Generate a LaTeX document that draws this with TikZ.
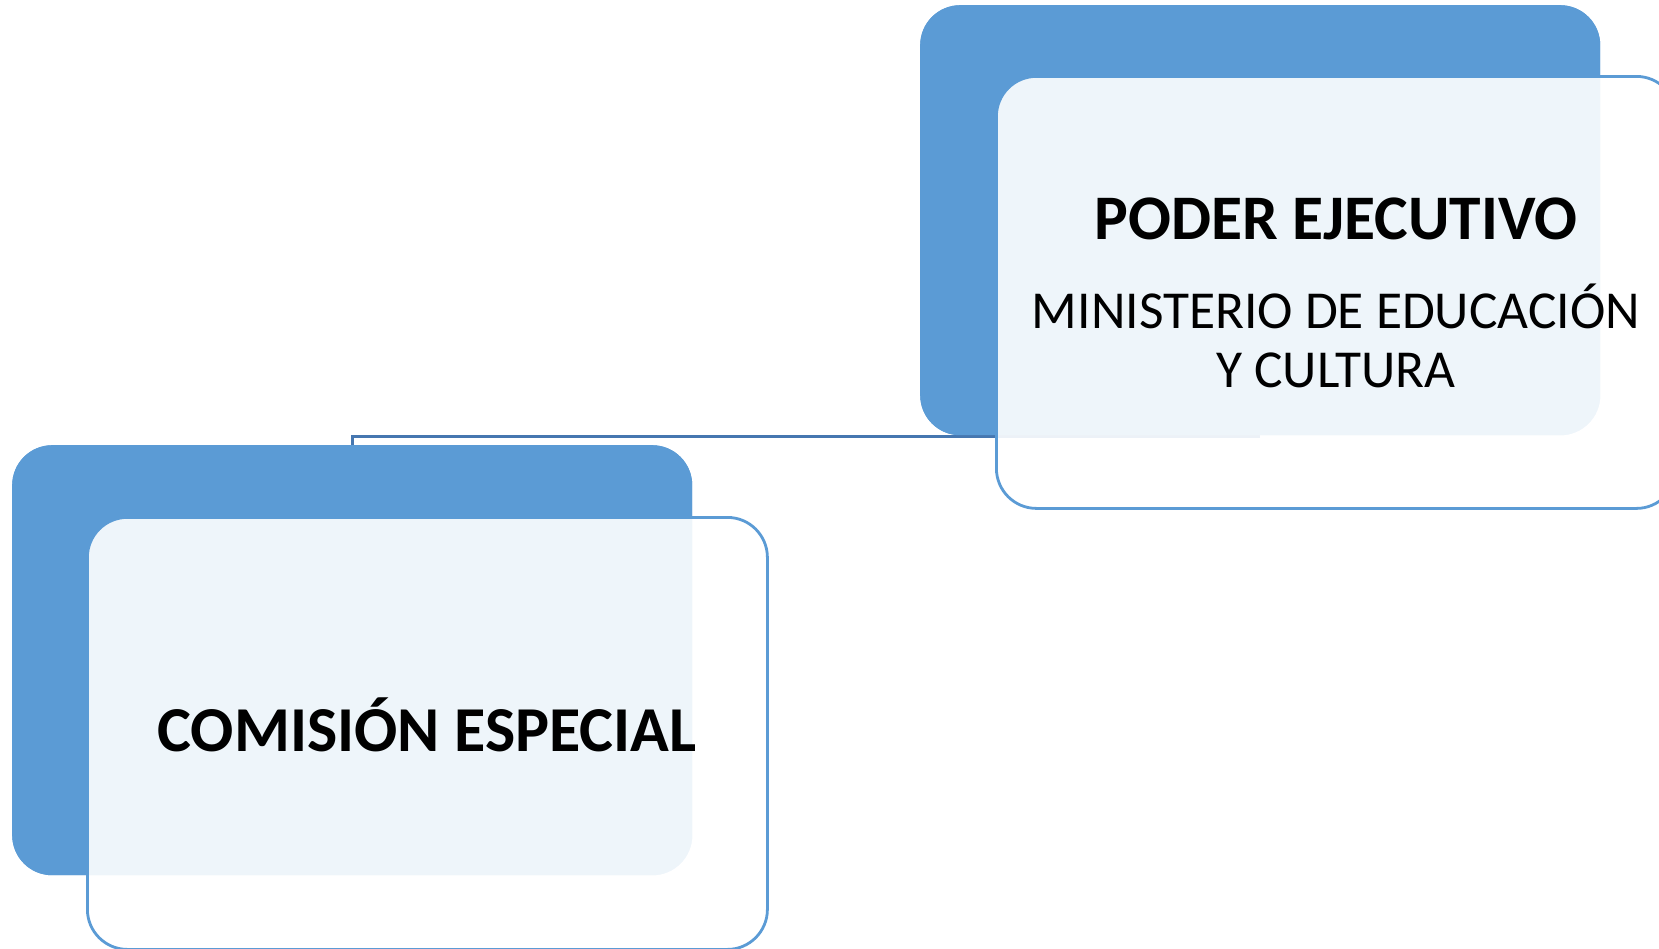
\documentclass[tikz,border=0pt]{standalone}
\usepackage{fontspec}
\setmainfont{Carlito}
\definecolor{accent}{HTML}{5B9BD5}
\definecolor{connc}{HTML}{4677B0}
\tikzset{
  bluebox/.style={fill=accent, draw=none, rounded corners=40pt, anchor=north west,
    minimum width=680pt, minimum height=430pt, inner sep=0pt},
  overbox/.style={fill=white, fill opacity=0.9, text opacity=1, draw=accent, line width=2.8pt,
    rounded corners=40pt, anchor=north west, minimum width=680pt, minimum height=432pt,
    inner sep=0pt, align=center},
  conn/.style={draw=connc, line width=3pt},
}
\begin{document}
\begin{tikzpicture}[x=1pt,y=-1pt]
\useasboundingbox (0,0) rectangle (1659,948);
\clip (0,0) rectangle (1659,948);
\node[bluebox] (b1) at (920,5) {};
\node[bluebox] (b2) at (12,445) {};
\draw[conn] (b2.north) |- ([yshift=-1.5pt]b1.south);
\node[bluebox] at (920,5) {};
\node[bluebox] at (12,445) {};
\node[overbox] (o1) at (995,75) {};
\node[overbox] (o2) at (86,516) {};
\node[align=center, inner sep=0pt, font=\fontsize{63.5}{68}\selectfont\bfseries] (t1) at (1336,219) {PODER EJECUTIVO};
\node[align=center, inner sep=0pt, font=\fontsize{53.4}{59}\selectfont] (t2) at (1336,335.5) {MINISTERIO DE EDUCACIÓN\\Y CULTURA};
\node[inner sep=0pt, font=\fontsize{64}{68}\selectfont\bfseries] (t3) at (427,725) {COMISIÓN ESPECIAL};
\end{tikzpicture}
\end{document}
